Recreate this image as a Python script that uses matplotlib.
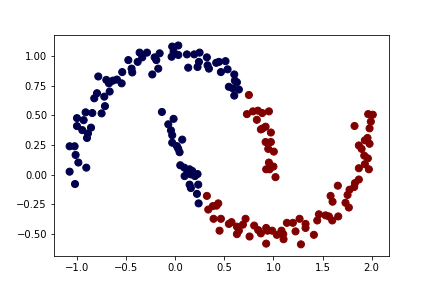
import numpy as np
import matplotlib
matplotlib.use("Agg")
import matplotlib.pyplot as plt

# two moons, points
blue_x = [-1.076, -1.021, -1.076, -1.025, -1.015, -0.987, -0.906, -1.001, -1.001, -0.947,
          -0.933, -0.913, -0.899, -0.858, -0.845, -0.889, -0.825, -0.797, -0.784, -0.75,
          -0.723, -0.716, -0.702, -0.668, -0.675, -0.635, -0.594, -0.546, -0.54, -0.478,
          -0.445, -0.438, -0.383, -0.363, -0.336, -0.288, -0.234, -0.21, -0.173, -0.159,
          -0.193, -0.031, 0.031, -0.037, 0.031, -0.017, 0.119, 0.193, 0.248, 0.132,
          0.227, 0.241, 0.322, 0.329, 0.343, 0.417, 0.445, 0.512, 0.465, 0.533,
          0.601, 0.607, 0.628, 0.546, 0.587, 0.648, 0.601,
          -0.136, -0.017, -0.071, -0.044, -0.031, 0.071, -0.031, 0.017, 0.044,
          0.051, 0.092, 0.146, 0.173, 0.095, 0.159, 0.227, 0.2, 0.146, 0.159,
          0.234, 0.221, 0.238, 0.125, 0.03]
blue_y = [0.026, -0.078, 0.24, 0.24, 0.167, 0.103, 0.06, 0.477, 0.41, 0.376,
          0.46, 0.526, 0.31, 0.397, 0.52, 0.348, 0.644, 0.687, 0.828, 0.517,
          0.658, 0.578, 0.799, 0.701, 0.77, 0.793, 0.802, 0.77, 0.865, 0.966,
          0.894, 0.862, 0.951, 1.029, 0.989, 1.029, 0.845, 0.989, 0.894, 1.023,
          0.966, 1.08, 1.089, 0.994, 1.009, 1.037, 1.014, 1.014, 1.029, 0.902,
          0.908, 0.951, 0.989, 0.922, 0.894, 0.943, 0.951, 0.957, 0.865, 0.888,
          0.845, 0.793, 0.779, 0.741, 0.727, 0.718, 0.667,
          0.529, 0.471, 0.425, 0.374, 0.333, 0.296, 0.27, 0.241, 0.19,
          0.08, 0.06, 0.046, 0.032, -0.011, 0.003, 0.006, -0.011, -0.083, -0.112,
          -0.083, -0.161, -0.241, 0.02, 0.22]

red_x = [0.75, 0.73, 0.791, 0.842, 0.954, 0.886, 0.831, 0.872, 0.92, 0.974,
         0.92, 0.974, 0.947, 1.004, 0.954, 0.926, 1.0, 0.96, 1.021, 0.89,
         0.322, 0.336, 0.383, 0.438, 0.39, 0.465, 0.451, 0.546, 0.573, 0.628,
         0.648, 0.628, 0.716, 0.689, 0.757, 0.804, 0.845, 0.872, 0.926, 0.94,
         0.926, 0.987, 1.035, 1.082, 1.103, 1.137, 1.198, 1.225, 1.266, 1.28,
         1.327, 1.327, 1.412, 1.446, 1.463, 1.531, 1.565, 1.599, 1.66, 1.582,
         1.602, 1.656, 1.734, 1.768, 1.755, 1.775, 1.823, 1.87, 1.87, 1.931,
         1.972, 1.826, 1.87, 1.898, 1.925, 1.962, 1.931, 1.979, 1.958, 1.979,
         1.992, 1.965, 2.012, 1.83, 0.42, 1.1]
red_y = [0.672, 0.511, 0.534, 0.54, 0.534, 0.52, 0.463, 0.382, 0.405, 0.356,
         0.276, 0.276, 0.218, 0.195, 0.103, 0.046, 0.069, 0.046, -0.02, 0.39,
         -0.178, -0.293, -0.264, -0.241, -0.371, -0.371, -0.471, -0.414, -0.399, -0.437,
         -0.471, -0.5, -0.371, -0.42, -0.52, -0.428, -0.466, -0.494, -0.448, -0.471,
         -0.58, -0.471, -0.506, -0.471, -0.543, -0.405, -0.405, -0.477, -0.371, -0.586,
         -0.414, -0.448, -0.506, -0.385, -0.333, -0.342, -0.351, -0.385, -0.351, -0.178,
         -0.227, -0.092, -0.236, -0.276, -0.17, -0.126, -0.103, -0.04, 0.055, 0.089,
         0.046, 0.411, 0.247, 0.218, 0.161, 0.138, 0.29, 0.261, 0.31, 0.391,
         0.448, 0.511, 0.506, -0.07, -0.26, -0.5]

X = np.array(blue_x + red_x)
Y = np.array(blue_y + red_y)
labels = np.array([0] * len(blue_x) + [1] * len(red_x))

fig = plt.figure(figsize=(6, 4), dpi=72)
plt.scatter(X, Y, c=labels, cmap="seismic", s=50)
plt.xlim(-1.235, 2.175)
plt.ylim(-0.687, 1.181)
plt.savefig("out.png", dpi=72)
